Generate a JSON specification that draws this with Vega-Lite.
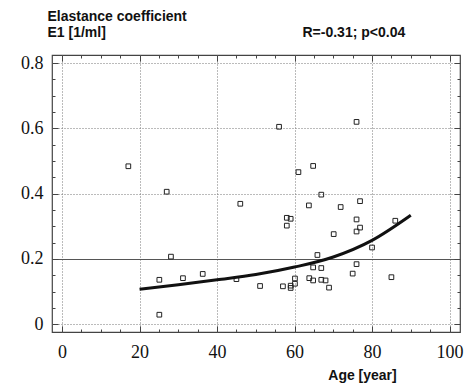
{
  "$schema": "https://vega.github.io/schema/vega-lite/v6.json",
  "autosize": "none",
  "padding": {"left": 52, "top": 55, "right": 8, "bottom": 51},
  "width": 408,
  "height": 277,
  "background": "white",
  "config": {
    "view": {"stroke": "#444", "strokeWidth": 1.2},
    "axis": {"domain": false, "labelColor": "#111", "tickColor": "#444", "titleColor": "#111"}
  },
  "datasets": {
    "pts": [
      {"age": 17.1, "e1": 0.484}, {"age": 27.0, "e1": 0.406}, {"age": 56.0, "e1": 0.605},
      {"age": 76.0, "e1": 0.620}, {"age": 61.0, "e1": 0.466}, {"age": 64.8, "e1": 0.485},
      {"age": 66.9, "e1": 0.397}, {"age": 46.0, "e1": 0.369}, {"age": 28.1, "e1": 0.207},
      {"age": 25.1, "e1": 0.136}, {"age": 31.2, "e1": 0.141}, {"age": 36.3, "e1": 0.154},
      {"age": 45.0, "e1": 0.138}, {"age": 51.1, "e1": 0.117}, {"age": 25.1, "e1": 0.029},
      {"age": 76.9, "e1": 0.377}, {"age": 63.7, "e1": 0.364}, {"age": 71.9, "e1": 0.359},
      {"age": 58.0, "e1": 0.326}, {"age": 59.0, "e1": 0.323}, {"age": 58.0, "e1": 0.302},
      {"age": 76.0, "e1": 0.321}, {"age": 86.0, "e1": 0.317}, {"age": 76.9, "e1": 0.296},
      {"age": 76.0, "e1": 0.284}, {"age": 70.1, "e1": 0.276}, {"age": 80.0, "e1": 0.235},
      {"age": 65.9, "e1": 0.212}, {"age": 76.0, "e1": 0.184}, {"age": 64.8, "e1": 0.174},
      {"age": 66.9, "e1": 0.172}, {"age": 75.0, "e1": 0.155}, {"age": 60.1, "e1": 0.140},
      {"age": 63.8, "e1": 0.141}, {"age": 64.8, "e1": 0.134}, {"age": 66.9, "e1": 0.136},
      {"age": 68.0, "e1": 0.134}, {"age": 68.9, "e1": 0.112}, {"age": 85.0, "e1": 0.144},
      {"age": 60.1, "e1": 0.124}, {"age": 59.0, "e1": 0.118}, {"age": 59.0, "e1": 0.111},
      {"age": 57.0, "e1": 0.116}
    ],
    "fit": [
      {"age": 20, "e1": 0.107}, {"age": 30, "e1": 0.121}, {"age": 40, "e1": 0.136},
      {"age": 50, "e1": 0.152}, {"age": 60, "e1": 0.175}, {"age": 70, "e1": 0.206},
      {"age": 80, "e1": 0.257}, {"age": 90, "e1": 0.334}
    ]
  },
  "layer": [
    {
      "data": {"name": "pts"},
      "mark": {"type": "point", "shape": "square", "filled": false, "size": 22, "stroke": "#222", "strokeWidth": 1, "opacity": 1},
      "encoding": {
        "x": {
          "field": "age", "type": "quantitative",
          "scale": {"domain": [-2.6, 102.7], "nice": false, "zero": false},
          "axis": {
            "orient": "bottom",
            "values": [0,5,10,15,20,25,30,35,40,45,50,55,60,65,70,75,80,85,90,95,100],
            "labelExpr": "datum.value % 20 === 0 ? datum.label : ''",
            "labelFont": "Liberation Serif", "labelFontSize": 18, "labelPadding": 17,
            "tickSize": {"condition": {"test": "datum.value % 20 === 0", "value": -6}, "value": -3},
            "grid": true,
            "gridOpacity": {"condition": {"test": "datum.value % 20 === 0", "value": 1}, "value": 0},
            "gridDash": [1, 2], "gridColor": "#777", "gridWidth": 1,
            "title": "Age [year]",
            "titleFont": "Liberation Sans", "titleFontSize": 14, "titleFontWeight": "bold",
            "titleX": 310, "titleY": 47, "titleAlign": "center", "titleBaseline": "alphabetic"
          }
        },
        "y": {
          "field": "e1", "type": "quantitative",
          "scale": {"domain": [-0.024, 0.825], "nice": false, "zero": false},
          "axis": {
            "orient": "left",
            "values": [0,0.05,0.1,0.15,0.2,0.25,0.3,0.35,0.4,0.45,0.5,0.55,0.6,0.65,0.7,0.75,0.8],
            "labelExpr": "abs(datum.value*5 - round(datum.value*5)) < 0.001 ? format(datum.value, '.1~f') : ''",
            "labelFont": "Liberation Serif", "labelFontSize": 18, "labelPadding": 15,
            "tickSize": {"condition": {"test": "abs(datum.value*5 - round(datum.value*5)) < 0.001", "value": -6}, "value": -3},
            "grid": true,
            "gridOpacity": {"condition": {"test": "abs(datum.value*5 - round(datum.value*5)) < 0.001", "value": 1}, "value": 0},
            "gridDash": {"condition": {"test": "abs(datum.value - 0.2) < 0.001", "value": []}, "value": [1, 2]},
            "gridColor": {"condition": {"test": "abs(datum.value - 0.2) < 0.001", "value": "#555"}, "value": "#777"},
            "gridWidth": 1,
            "title": ["Elastance coefficient", "E1 [1/ml]"],
            "titleFont": "Liberation Sans", "titleFontSize": 14, "titleFontWeight": "bold",
            "titleAngle": 0, "titleAlign": "left", "titleBaseline": "alphabetic",
            "titleX": -5, "titleY": -34.5, "titleLineHeight": 16
          }
        }
      }
    },
    {
      "data": {"name": "fit"},
      "mark": {"type": "line", "color": "#111", "strokeWidth": 3, "interpolate": "monotone"},
      "encoding": {
        "x": {
          "field": "age", "type": "quantitative",
          "axis": {
            "orient": "top",
            "values": [0,5,10,15,20,25,30,35,40,45,50,55,60,65,70,75,80,85,90,95,100],
            "labels": false, "grid": false,
            "tickSize": {"condition": {"test": "datum.value % 20 === 0", "value": -6}, "value": -3},
            "title": "R=-0.31; p<0.04",
            "titleFont": "Liberation Sans", "titleFontSize": 14, "titleFontWeight": "bold",
            "titleX": 250, "titleY": -19, "titleAlign": "left", "titleBaseline": "alphabetic"
          }
        },
        "y": {
          "field": "e1", "type": "quantitative",
          "axis": {
            "orient": "right",
            "values": [0,0.05,0.1,0.15,0.2,0.25,0.3,0.35,0.4,0.45,0.5,0.55,0.6,0.65,0.7,0.75,0.8],
            "labels": false, "title": null, "grid": false,
            "tickSize": {"condition": {"test": "abs(datum.value*5 - round(datum.value*5)) < 0.001", "value": -6}, "value": -3}
          }
        }
      }
    }
  ],
  "resolve": {"axis": {"x": "independent", "y": "independent"}}
}
